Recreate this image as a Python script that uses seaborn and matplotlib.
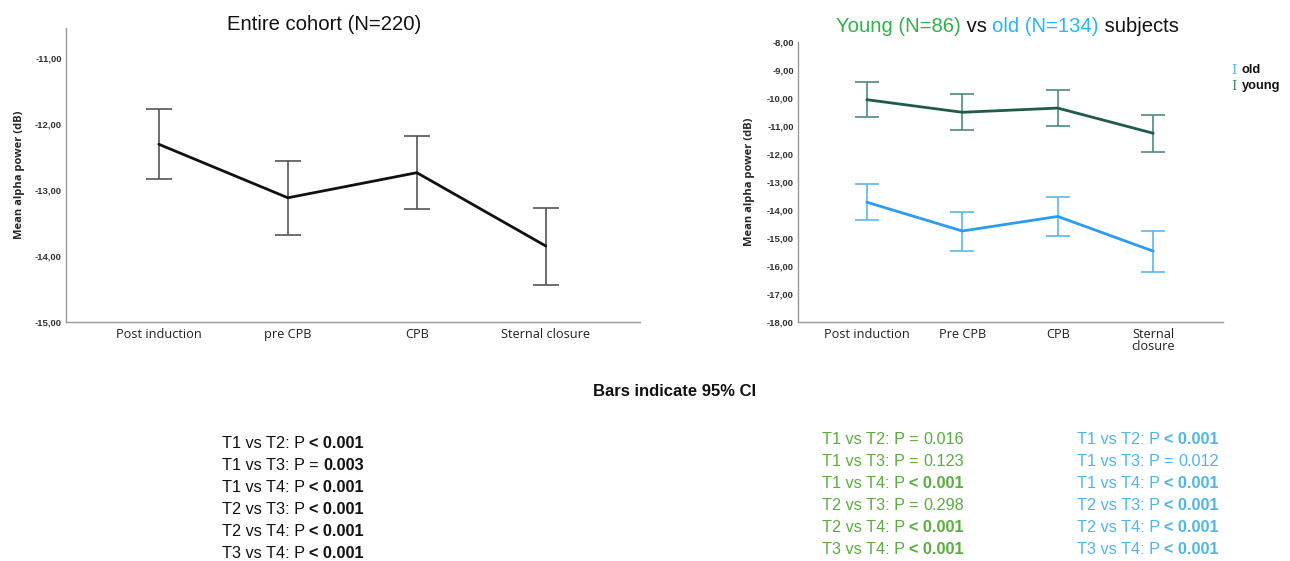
import seaborn as sns
import matplotlib.pyplot as plt
import numpy as np
from matplotlib.ticker import FuncFormatter

# Means and 95% CI bounds
labels_all = ['Post induction', 'pre CPB', 'CPB', 'Sternal closure']
mean_all = [-12.31, -13.12, -12.74, -13.85]
lo_all = [-12.83, -13.68, -13.29, -14.44]
hi_all = [-11.78, -12.57, -12.18, -13.27]

labels_age = ['Post induction', 'Pre CPB', 'CPB', 'Sternal\nclosure']
mean_young = [-10.06, -10.51, -10.36, -11.26]
lo_young = [-10.69, -11.15, -11.00, -11.93]
hi_young = [-9.42, -9.87, -9.71, -10.59]
mean_old = [-13.72, -14.75, -14.23, -15.47]
lo_old = [-14.37, -15.46, -14.93, -16.23]
hi_old = [-13.06, -14.07, -13.52, -14.74]

#Pairwise comparisons and their p values
comparisons = ['T1 vs T2', 'T1 vs T3', 'T1 vs T4', 'T2 vs T3', 'T2 vs T4', 'T3 vs T4']
p_all = ['< 0.001', '= 0.003', '< 0.001', '< 0.001', '< 0.001', '< 0.001']
p_young = ['= 0.016', '= 0.123', '< 0.001', '= 0.298', '< 0.001', '< 0.001']
p_old = ['< 0.001', '= 0.012', '< 0.001', '< 0.001', '< 0.001', '< 0.001']
alpha_corr = 0.05 / 6

sns.set_style('white')
plt.rcParams['font.family'] = ['Liberation Sans', 'DejaVu Sans']

fig = plt.figure(figsize=(12.9, 5.61), dpi=100)
W, H = 1290, 561
ax1 = fig.add_axes([66 / W, 1 - 322 / H, (640 - 66) / W, (322 - 28) / H])
ax2 = fig.add_axes([798 / W, 1 - 322 / H, (1223 - 798) / W, (322 - 42) / H])
#overlay axes for all free text
axt = fig.add_axes([0, 0, 1, 1], zorder=5)
axt.axis('off')


def draw_series(ax, mean, lo, hi, line_col, bar_col, cap):
    x = np.arange(len(mean))
    m = np.array(mean)
    sns.lineplot(x=x, y=m, ax=ax, color=line_col, linewidth=2.0, zorder=3)
    ax.errorbar(x, m, yerr=[m - np.array(lo), np.array(hi) - m], fmt='none',
                ecolor=bar_col, elinewidth=1.2, capsize=cap, capthick=1.2, zorder=2)


draw_series(ax1, mean_all, lo_all, hi_all, '#111111', '#555555', 9.5)
draw_series(ax2, mean_young, lo_young, hi_young, '#1e5a4e', '#4b8a80', 8.3)
draw_series(ax2, mean_old, lo_old, hi_old, '#2b9cf0', '#5ab9ee', 8.3)

fmt = FuncFormatter(lambda v, p: ('%.2f' % v).replace('.', ','))
for ax, labels, ylim, ticks in [(ax1, labels_all, (-15, -10.55), np.arange(-15, -10.5, 1)),
                                (ax2, labels_age, (-18, -8), np.arange(-18, -7.5, 1))]:
    ax.set_xlim(-0.72, 3.73)
    ax.set_ylim(*ylim)
    ax.set_yticks(ticks)
    ax.yaxis.set_major_formatter(fmt)
    ax.set_xticks(range(4))
    ax.set_xticklabels(labels, fontsize=9.2, color='#222222', family='Open Sans',
                       linespacing=0.95)
    ax.tick_params(axis='y', length=0, pad=3, labelsize=6.8, labelcolor='#333333')
    ax.tick_params(axis='x', length=0, pad=4)
    for t in ax.get_yticklabels():
        t.set_fontweight('bold')
    sns.despine(ax=ax)
    for s in ['left', 'bottom']:
        ax.spines[s].set_color('#999999')
        ax.spines[s].set_linewidth(1.0)
    ax.set_xlabel('')
    ax.set_ylabel('Mean alpha power (dB)', fontsize=8, fontweight='bold', family='Open Sans')

ax1.yaxis.set_label_coords(-0.072, 0.5)
ax2.yaxis.set_label_coords(-0.102, 0.5)


def rich_line(x, y, parts, size):
    # parts: list of (text, colour, weight) drawn one after the other
    txt, col, wt = parts[0]
    prev = axt.text(x, y, txt, color=col, fontweight=wt, fontsize=size,
                    ha='left', va='center', transform=axt.transAxes)
    for txt, col, wt in parts[1:]:
        prev = axt.annotate(txt, xy=(1, 0), xycoords=prev, color=col, fontweight=wt,
                            fontsize=size, ha='left', va='bottom')
    return prev


axt.text(324 / W, 1 - 25 / H, 'Entire cohort (N=220)', fontsize=14.6, color='#111111',
         ha='center', va='center', transform=axt.transAxes)

# coloured title of the right panel
rich_line(836 / W, 1 - 26 / H, [('Young (N=86)', '#2db34a', 'normal'),
                                (' vs ', '#111111', 'normal'),
                                ('old (N=134)', '#29b6f6', 'normal'),
                                (' subjects', '#111111', 'normal')], 14.6)

# legend
for i, (name, col) in enumerate([('old', '#5ab9ee'), ('young', '#4b8a80')]):
    yy = 1 - (70 + 16.5 * i) / H
    axt.text(1231 / W, yy, 'I', color=col, fontsize=9.5, family='DejaVu Serif',
             ha='left', va='center', transform=axt.transAxes)
    axt.text(1242 / W, yy, name, color='#111111', fontsize=9.3, fontweight='bold',
             ha='left', va='center', transform=axt.transAxes)

axt.text(593 / W, 1 - 391 / H, 'Bars indicate 95% CI', fontsize=12, fontweight='bold',
         ha='left', va='center', transform=axt.transAxes, color='#111111')


def p_block(x, y0, pvals, col):
    for i, (c, p) in enumerate(zip(comparisons, pvals)):
        sign, val = p.split()
        sig = float(val) < alpha_corr
        y = 1 - (y0 + 22 * i) / H
        if sign == '<':
            parts = [(c + ': P ', col, 'normal'), ('< ' + val, col, 'bold' if sig else 'normal')]
        else:
            parts = [(c + ': P = ', col, 'normal'), (val, col, 'bold' if sig else 'normal')]
        rich_line(x / W, y, parts, 11.7)


p_block(222, 443, p_all, '#111111')
p_block(822, 440, p_young, '#5aad3e')
p_block(1077, 440, p_old, '#4fb6e8')

fig.savefig('out.png', dpi=100)
